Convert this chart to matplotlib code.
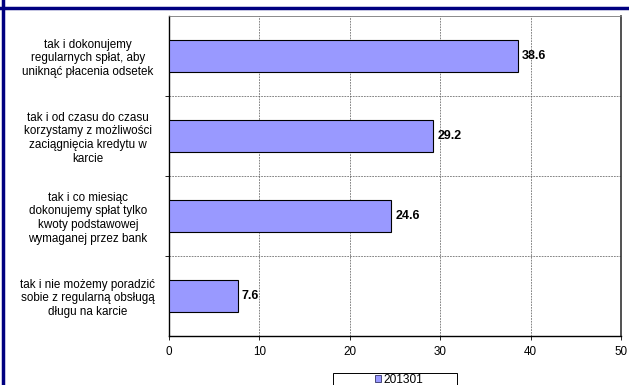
import matplotlib
matplotlib.use('Agg')
import matplotlib.pyplot as plt
from matplotlib.patches import Rectangle, Patch
from matplotlib.lines import Line2D

plt.rcParams['font.family'] = ['Liberation Sans', 'DejaVu Sans']

# Odpowiedzi (od góry do dołu) i udziały w %
categories = [
    'tak i dokonujemy\nregularnych spłat, aby\nuniknąć płacenia odsetek',
    'tak i od czasu do czasu\nkorzystamy z możliwości\nzaciągnięcia kredytu w\nkarcie',
    'tak i co miesiąc\ndokonujemy spłat tylko\nkwoty podstawowej\nwymaganej przez bank',
    'tak i nie możemy poradzić\nsobie z regularną obsługą\ndługu na karcie',
]
values = [38.6, 29.2, 24.6, 7.6]
series_name = '201301'
x_ticks = [0, 10, 20, 30, 40, 50]

bar_color = '#9999FF'
navy = '#000080'

W, H = 629, 385
fig = plt.figure(figsize=(W / 100, H / 100), dpi=100)
ax = fig.add_axes([169 / W, 1 - 336 / H, (621 - 169) / W, (336 - 16) / H])

n = len(categories)
pos = list(range(n))
ax.barh(pos, values, height=0.4, color=bar_color, edgecolor='black', linewidth=0.8, zorder=3)
ax.set_ylim(n - 0.5, -0.5)
ax.set_xlim(x_ticks[0], x_ticks[-1])

# wartości przy słupkach
for p, v in zip(pos, values):
    ax.annotate(f'{v:.1f}', xy=(v, p), xytext=(3, 0), textcoords='offset points',
                va='center', ha='left', fontsize=9, fontweight='bold', zorder=4)

# opisy kategorii wyśrodkowane w lewym marginesie
ax.set_yticks(pos)
ax.set_yticklabels(categories, fontsize=8.4, ha='center', multialignment='center', linespacing=1.2)
ax.tick_params(axis='y', which='major', length=0, pad=(169 - 88) * 0.72)

# podziałki między kategoriami
ax.set_yticks([p + 0.5 for p in pos[:-1]], minor=True)
ax.tick_params(axis='y', which='minor', length=3, width=0.6, direction='out')

ax.set_xticks(x_ticks)
ax.tick_params(axis='x', labelsize=8.4, length=3, width=0.6, direction='out', pad=4)

grid_style = dict(color='#555555', linewidth=0.5, linestyle=(0, (2.5, 1.5)))
ax.grid(axis='x', which='major', **grid_style)
ax.grid(axis='y', which='minor', **grid_style)
ax.set_axisbelow(True)

for side in ['left', 'bottom']:
    ax.spines[side].set_linewidth(1.0)
    ax.spines[side].set_color('black')
ax.spines['top'].set_color('#777777')
ax.spines['top'].set_linewidth(0.6)
ax.spines['right'].set_color('#333333')
ax.spines['right'].set_linewidth(1.2)

# ramka granatowa
fig.add_artist(Line2D([0, 1], [1 - 7.5 / H, 1 - 7.5 / H], transform=fig.transFigure,
                      color=navy, linewidth=2.5))
fig.add_artist(Line2D([3 / W, 3 / W], [0, 1], transform=fig.transFigure,
                      color=navy, linewidth=2.5))

# legenda
fig.add_artist(Rectangle((333 / W, -0.05), (457 - 333) / W, 0.05 + 1 - 373 / H,
                         transform=fig.transFigure, facecolor='white',
                         edgecolor='black', linewidth=0.7))
handle = Patch(facecolor=bar_color, edgecolor='#333366', linewidth=0.6)
fig.legend([handle], [series_name], loc='center', frameon=False,
           bbox_to_anchor=(399 / W, 1 - 380 / H), fontsize=8.6,
           handlelength=0.55, handleheight=0.55, handletextpad=0.2,
           borderpad=0, borderaxespad=0)

fig.savefig('out.png', dpi=100)
